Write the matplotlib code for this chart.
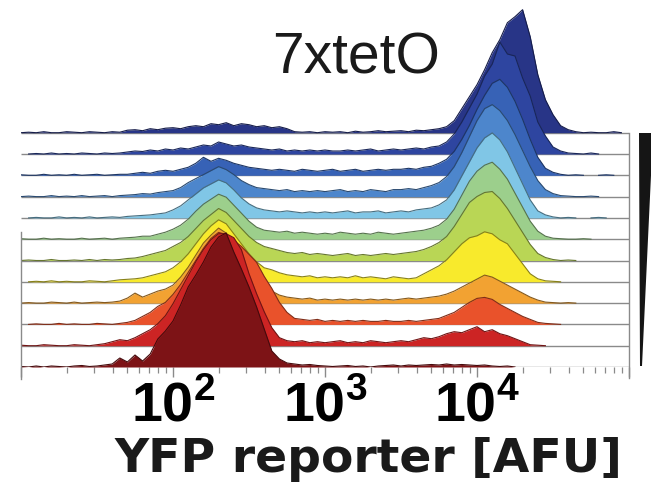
import numpy as np
import matplotlib
matplotlib.use("Agg")
import matplotlib.pyplot as plt
from matplotlib.patches import Polygon
from matplotlib.ticker import FixedLocator, FuncFormatter, NullFormatter
from matplotlib.colors import to_rgb

# bin centres of the YFP histograms, log10(AFU)
log_yfp = np.round(np.arange(1.0, 5.0001, 0.05), 2)

# events per bin, one list per induction level (top lane first)
dist_01 = [0, 0.5, 0, 1, 0, 0, 1, 0.5, 0, 1,
           0.5, 0, 1, 0.5, 2.5, 3, 2, 4, 3, 4.5,
           5, 4, 6, 7, 6, 9, 8, 10, 7, 9,
           8, 6, 7, 5, 6, 4, 1, 0.5, 1, 0,
           1, 0.5, 1, 0, 1.5, 0.5, 1, 2, 1, 1.5,
           2, 1, 2.5, 2, 3, 4, 6, 12, 24, 36,
           48, 63, 80, 93, 110, 116, 123, 96, 58, 33,
           18, 7, 3, 1, 0, 0.5, 0, 0, 1, 0, 0]
dist_02 = [0, 0, 0.5, 0, 1, 0, 0.5, 0, 1, 0.5,
           0, 1, 0.5, 1, 2, 3, 2.5, 4, 3, 5,
           4, 6, 5, 7, 9, 8, 12, 10, 8, 9,
           7, 6, 5, 4, 5, 3, 4, 3, 4, 3,
           4, 3, 3, 4, 3, 4, 5, 3, 4, 5,
           4, 5, 6, 5, 7, 8, 12, 20, 32, 46,
           60, 78, 90, 112, 100, 98, 76, 58, 32, 18,
           7, 3, 1, 0.5, 0, 1, 0, 0, 0, 0, 0]
dist_03 = [0.5, 0, 0, 1, 0, 0.5, 0, 1, 0, 0.5,
           1, 0, 0.5, 1, 1, 2, 3, 2, 4, 5,
           4, 6, 8, 12, 18, 14, 17, 15, 12, 10,
           8, 7, 6, 5, 6, 5, 4, 6, 5, 4,
           5, 6, 4, 5, 6, 4, 5, 6, 5, 6,
           6, 7, 6, 8, 9, 12, 16, 24, 36, 50,
           66, 80, 92, 96, 88, 74, 56, 36, 18, 7,
           3, 1, 0, 0.5, 0, 0, 0, 0.5, 0, 0, 0]
dist_04 = [0, 0.5, 0, 0, 1, 0, 0.5, 0, 1, 0,
           0.5, 1, 0, 1, 1.5, 2, 3, 2.5, 4, 5,
           6, 9, 14, 18, 22, 26, 30, 27, 22, 16,
           12, 9, 8, 7, 6, 7, 5, 6, 5, 6,
           5, 6, 7, 5, 6, 5, 7, 6, 5, 7,
           7, 8, 7, 9, 11, 14, 20, 30, 44, 60,
           76, 88, 92, 86, 76, 62, 46, 30, 16, 7,
           3, 1, 0.5, 0, 0, 0.5, 0, 0, 0, 0, 0]
dist_05 = [0, 0, 0.5, 0, 0, 1, 0, 0.5, 0, 1,
           0, 0.5, 1, 0.5, 1.5, 2, 2.5, 3, 4, 5,
           8, 12, 18, 24, 30, 34, 38, 35, 28, 20,
           14, 10, 8, 7, 6, 7, 6, 5, 6, 5,
           6, 5, 6, 7, 5, 6, 6, 7, 5, 6,
           7, 6, 8, 9, 10, 13, 18, 28, 42, 56,
           70, 80, 85, 78, 66, 50, 34, 18, 7, 3,
           1, 0, 0.5, 0, 0, 0, 0.5, 0, 0, 0, 0]
dist_06 = [0.5, 0, 0, 1, 0, 0.5, 0, 0, 1, 0,
           0.5, 1, 0, 1, 1.5, 2, 3, 3, 5, 7,
           10, 14, 20, 28, 35, 40, 45, 42, 34, 26,
           18, 12, 9, 8, 7, 8, 6, 7, 6, 5,
           6, 5, 7, 6, 5, 6, 5, 7, 6, 5,
           6, 7, 8, 9, 11, 14, 20, 30, 44, 58,
           68, 74, 77, 70, 60, 46, 32, 18, 8, 3,
           1, 0.5, 0, 0, 0.5, 0, 0, 0, 0, 0, 0]
dist_07 = [0, 0.5, 0, 0, 1, 0, 0, 0.5, 0, 1,
           0, 1, 0.5, 1, 2, 2.5, 4, 6, 8, 10,
           14, 18, 24, 32, 40, 46, 52, 48, 40, 32,
           24, 18, 14, 12, 10, 8, 7, 8, 6, 7,
           6, 5, 6, 7, 5, 6, 5, 6, 7, 6,
           7, 8, 9, 11, 14, 18, 24, 34, 46, 58,
           64, 68, 69, 62, 52, 40, 28, 16, 7, 3,
           1, 0, 0.5, 0, 0, 0, 0, 0, 0, 0, 0]
dist_08 = [0, 0, 0.5, 0, 1, 0, 0.5, 0, 0, 1,
           0.5, 0, 1, 2, 2.5, 3, 4, 6, 8, 10,
           14, 20, 28, 38, 48, 56, 62, 58, 48, 38,
           28, 20, 14, 12, 9, 7, 6, 5, 6, 4,
           5, 4, 5, 4, 6, 4, 5, 4, 3, 5,
           4, 3, 4, 8, 12, 16, 22, 30, 38, 44,
           46, 50, 48, 42, 38, 28, 18, 8, 3, 1,
           0.5, 0, 0, 0, 0, 0, 0, 0, 0, 0, 0]
dist_09 = [0, 0.5, 0, 0, 1, 0.5, 0, 1, 0, 0.5,
           1, 0.5, 1, 2, 5, 10, 6, 9, 12, 14,
           18, 26, 36, 48, 60, 68, 75, 70, 58, 46,
           34, 24, 16, 12, 8, 6, 5, 4, 5, 3,
           4, 3, 4, 3, 4, 3, 4, 3, 4, 3,
           4, 5, 4, 5, 6, 7, 9, 12, 16, 20,
           24, 28, 26, 22, 18, 14, 10, 6, 3, 1,
           0.5, 0, 0.5, 0, 0, 0, 0, 0, 0, 0, 0]
dist_10 = [0, 0, 0.5, 0, 0, 1, 0, 0.5, 0, 0,
           1, 0.5, 0, 1, 2, 4, 8, 12, 18, 22,
           30, 40, 52, 64, 76, 86, 92, 90, 84, 78,
           70, 62, 48, 36, 22, 12, 6, 5, 4, 5,
           3, 4, 3, 4, 3, 4, 3, 3, 4, 3,
           3, 4, 3, 4, 5, 6, 9, 12, 17, 22,
           26, 27, 25, 20, 16, 12, 8, 5, 2, 1,
           0.5, 0, 0, 0, 0, 0, 0, 0, 0, 0, 0]
dist_11 = [0.5, 0, 0, 1, 0.5, 0, 0, 1, 0.5, 0,
           1, 2, 4, 6, 5, 8, 12, 16, 22, 30,
           42, 56, 70, 84, 96, 106, 112, 112, 108, 96,
           72, 52, 34, 18, 8, 5, 4, 5, 3, 4,
           3, 4, 5, 3, 4, 3, 5, 4, 3, 4,
           5, 4, 6, 8, 7, 9, 12, 14, 13, 16,
           19, 14, 16, 12, 10, 7, 4, 1, 0.5, 0,
           0, 0, 0, 0, 0, 0, 0, 0, 0, 0, 0]
dist_12 = [0.5, 0, 1, 0, 1, 0.5, 0, 1, 1.5, 0.5,
           1, 2, 3, 9, 5, 12, 6, 13, 28, 36,
           46, 62, 80, 92, 105, 120, 130, 134, 115, 98,
           80, 60, 38, 16, 8, 4, 3, 2, 2.5, 1.5,
           1, 0.5, 1, 1.5, 0.5, 1, 0, 1, 1.5, 2,
           1, 2, 1.5, 2, 2.5, 2, 3, 2, 2.5, 2,
           1.5, 2, 1, 0.5, 1, 0, 0, 0, 0, 0,
           0, 0, 0, 0, 0, 0, 0, 0, 0, 0, 0]

lane_colors = ["#283587", "#2e45a0", "#3762b6", "#4d86cc", "#80c6e6", "#9ccf8c",
               "#b9d655", "#f8ea2c", "#f2a232", "#e9522b", "#cc2424", "#7d1316"]
labelled_decades = [2, 3, 4]

distributions = [dist_01, dist_02, dist_03, dist_04, dist_05, dist_06,
                 dist_07, dist_08, dist_09, dist_10, dist_11, dist_12]

plt.rcParams['mathtext.fontset'] = 'custom'
plt.rcParams['mathtext.bf'] = 'Liberation Sans:bold'
plt.rcParams['mathtext.rm'] = 'Liberation Sans'

events_per_lane = 21.3   # counts corresponding to one lane spacing
n_lanes = len(distributions)

fig = plt.figure(figsize=(6.51, 4.82), dpi=100)
ax = fig.add_axes([21 / 651, 115 / 482, 608 / 651, 367 / 482])
ax.set_xscale('log')
ax.set_xlim(10, 1e5)
ax.set_ylim(0, 367 / events_per_lane)

x = 10.0 ** log_yfp
line_grey = '#8a8a8a'

for i, (counts, col) in enumerate(zip(distributions, lane_colors)):
    base = n_lanes - 1 - i
    h = np.asarray(counts, dtype=float) / events_per_lane
    z = 10 + 3 * i
    ax.plot([10, 1e5], [base, base], color=line_grey, lw=1.0, zorder=z,
            solid_capstyle='butt')
    ax.fill_between(x, base, base + h, color=col, lw=0, zorder=z + 1)
    edge = np.array(to_rgb(col)) * 0.55
    top = base + h
    empty = (h == 0) & (np.roll(h, 1) == 0) & (np.roll(h, -1) == 0)
    top = np.where(empty, np.nan, top)
    ax.plot(x, top, color=edge, lw=0.8, zorder=z + 2)

# frame lines on the right and left of the stack
ax.plot([1e5, 1e5], [-0.5, n_lanes - 1], color=line_grey, lw=1.0,
        clip_on=False, zorder=50)
ax.plot([10, 10], [-0.55, 6.35], color=line_grey, lw=1.0,
        clip_on=False, zorder=50)

for s in ax.spines.values():
    s.set_visible(False)
ax.set_yticks([])

ax.xaxis.set_major_locator(FixedLocator([10.0 ** d for d in range(1, 6)]))
ax.xaxis.set_minor_locator(FixedLocator(
    [m * 10.0 ** d for d in range(1, 5) for m in range(2, 10)]))
ax.xaxis.set_minor_formatter(NullFormatter())


def decade_label(v, pos):
    d = int(round(np.log10(v)))
    if d in labelled_decades:
        return r'$\mathbf{10}^{\mathbf{%d}}$' % d
    return ''


ax.xaxis.set_major_formatter(FuncFormatter(decade_label))
ax.tick_params(axis='x', which='major', direction='out', length=7, width=1.0,
               color=line_grey, pad=2, labelsize=40)
ax.tick_params(axis='x', which='minor', direction='out', length=4, width=0.9,
               color=line_grey)

fig.text(356 / 651, 1 - 59 / 482, '7xtetO', ha='center', va='center',
         fontsize=41, family='Liberation Sans', color='#1a1a1a')
fig.text(368 / 651, 10 / 482, 'YFP reporter [AFU]', ha='center', va='baseline',
         fontsize=34, fontweight='bold', family='DejaVu Sans', color='#1a1a1a')

# induction wedge
wedge_px = [(639, 133), (653, 133), (642, 366), (640, 366)]
wedge = Polygon([(px / 651, 1 - py / 482) for px, py in wedge_px],
                closed=True, transform=fig.transFigure, color='#151515', lw=0)
fig.add_artist(wedge)

fig.savefig('out.png', dpi=100)
